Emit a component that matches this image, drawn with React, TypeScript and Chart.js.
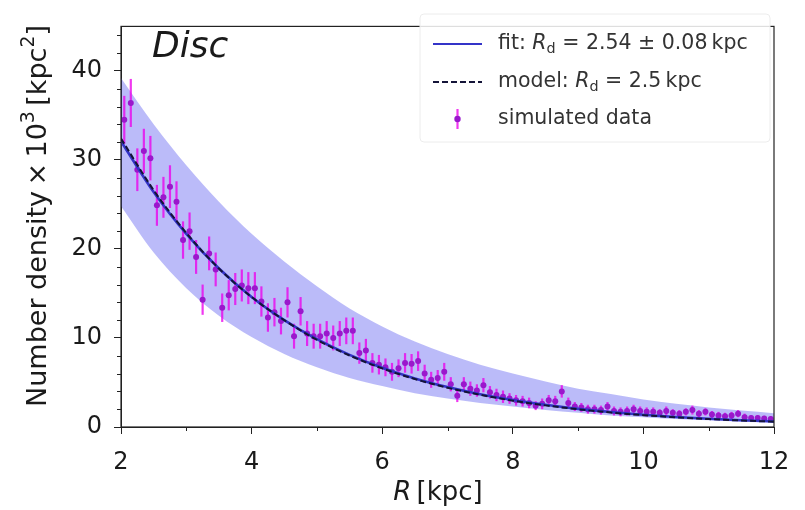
import React, { useEffect, useRef } from "react";
import { Chart, registerables } from "chart.js";
Chart.register(...registerables);

// ---- data ----
const curveR = [2, 2.5, 3, 3.5, 4, 4.5, 5, 5.5, 6, 6.5, 7, 7.5, 8, 8.5, 9, 9.5, 10, 10.5, 11, 11.5, 12];
const fitN = [32.1, 26.4, 21.7, 17.8, 14.6, 12.0, 9.86, 8.1, 6.65, 5.46, 4.49, 3.69, 3.03, 2.49, 2.04, 1.68, 1.38, 1.13, 0.93, 0.76, 0.63];
const modelN = [32.4, 26.6, 21.8, 17.8, 14.6, 12.0, 9.8, 8.03, 6.58, 5.39, 4.41, 3.62, 2.96, 2.43, 1.99, 1.63, 1.33, 1.09, 0.89, 0.73, 0.6];
const bandUpper = [39.2, 34.0, 29.4, 25.3, 21.7, 18.6, 15.8, 13.3, 11.3, 9.6, 8.2, 7.0, 6.0, 5.1, 4.3, 3.7, 3.1, 2.6, 2.2, 1.85, 1.55];
const bandLower = [24.8, 19.6, 15.6, 12.5, 10.1, 8.2, 6.7, 5.5, 4.6, 3.8, 3.2, 2.7, 2.3, 1.9, 1.6, 1.3, 1.1, 0.9, 0.75, 0.6, 0.5];

const dataR = [
  2.05, 2.15, 2.25, 2.35, 2.45, 2.55, 2.65, 2.75, 2.85, 2.95,
  3.05, 3.15, 3.25, 3.35, 3.45, 3.55, 3.65, 3.75, 3.85, 3.95,
  4.05, 4.15, 4.25, 4.35, 4.45, 4.55, 4.65, 4.75, 4.85, 4.95,
  5.05, 5.15, 5.25, 5.35, 5.45, 5.55, 5.65, 5.75, 5.85, 5.95,
  6.05, 6.15, 6.25, 6.35, 6.45, 6.55, 6.65, 6.75, 6.85, 6.95,
  7.05, 7.15, 7.25, 7.35, 7.45, 7.55, 7.65, 7.75, 7.85, 7.95,
  8.05, 8.15, 8.25, 8.35, 8.45, 8.55, 8.65, 8.75, 8.85, 8.95,
  9.05, 9.15, 9.25, 9.35, 9.45, 9.55, 9.65, 9.75, 9.85, 9.95,
  10.05, 10.15, 10.25, 10.35, 10.45, 10.55, 10.65, 10.75, 10.85, 10.95,
  11.05, 11.15, 11.25, 11.35, 11.45, 11.55, 11.65, 11.75, 11.85, 11.95,
];
const dataN = [
  34.5, 36.4, 28.9, 31.0, 30.2, 24.9, 25.8, 27.0, 25.3, 21.0,
  22.0, 19.1, 14.3, 19.5, 17.7, 13.4, 14.8, 15.5, 15.9, 15.6,
  15.6, 14.1, 12.3, 12.9, 11.9, 14.0, 10.2, 13.0, 10.5, 10.2,
  10.2, 10.5, 10.0, 10.5, 10.8, 10.8, 8.3, 8.6, 7.2, 7.0,
  6.7, 6.2, 6.6, 7.2, 7.1, 7.4, 6.0, 5.3, 5.5, 6.2,
  4.8, 3.5, 4.8, 4.3, 4.1, 4.7, 3.9, 3.6, 3.4, 3.2,
  3.0, 2.9, 2.7, 2.4, 2.6, 3.0, 2.9, 4.0, 2.7, 2.3,
  2.2, 2.0, 2.0, 1.9, 2.3, 1.8, 1.7, 1.8, 2.0, 1.8,
  1.7, 1.7, 1.6, 1.8, 1.6, 1.5, 1.7, 1.9, 1.5, 1.7,
  1.4, 1.3, 1.2, 1.3, 1.5, 1.1, 1.0, 1.0, 0.95, 0.9,
];
const dataErr = [
  2.7, 2.7, 2.4, 2.5, 2.5, 2.3, 2.3, 2.4, 2.3, 2.1,
  2.1, 1.9, 1.7, 1.9, 1.9, 1.6, 1.7, 1.8, 1.8, 1.8,
  1.8, 1.7, 1.6, 1.6, 1.5, 1.7, 1.4, 1.6, 1.4, 1.4,
  1.4, 1.4, 1.4, 1.4, 1.5, 1.5, 1.2, 1.3, 1.1, 1.1,
  1.0, 1.0, 1.0, 1.1, 1.1, 1.1, 1.0, 0.9, 0.9, 1.0,
  0.8, 0.7, 0.8, 0.8, 0.7, 0.8, 0.7, 0.7, 0.7, 0.6,
  0.6, 0.6, 0.6, 0.5, 0.6, 0.6, 0.6, 0.7, 0.6, 0.5,
  0.5, 0.5, 0.5, 0.5, 0.5, 0.5, 0.5, 0.5, 0.5, 0.5,
  0.5, 0.5, 0.4, 0.5, 0.4, 0.4, 0.4, 0.5, 0.4, 0.4,
  0.4, 0.4, 0.4, 0.4, 0.4, 0.4, 0.3, 0.3, 0.3, 0.3,
];

const xTicks = [2, 4, 6, 8, 10, 12];
const yTicks = [0, 10, 20, 30, 40];
const xMinor = [3, 5, 7, 9, 11];
const yMinor = [2, 4, 6, 8, 12, 14, 16, 18, 22, 24, 26, 28, 32, 34, 36, 38, 42, 44];

const FONT = '"DejaVu Sans", sans-serif';
const TEXT = "#1a1a1a";
const FIT_COLOR = "#3434c8";
const MODEL_COLOR = "#141438";
const POINT_COLOR = "#9a18cc";
const BAR_COLOR = "rgba(236,0,236,0.78)";
const BAND_COLOR = "rgba(100,100,242,0.44)";

type Run = { t: string; it?: boolean; sc?: number; dy?: number };

function fontFor(r: Run, size: number) {
  const s = size * (r.sc || 1);
  return `${r.it ? "italic " : ""}${s}px ${FONT}`;
}
function runsWidth(ctx: CanvasRenderingContext2D, runs: Run[], size: number) {
  let w = 0;
  for (const r of runs) {
    ctx.font = fontFor(r, size);
    w += ctx.measureText(r.t).width;
  }
  return w;
}
function drawRuns(ctx: CanvasRenderingContext2D, runs: Run[], x: number, y: number, size: number, align: "left" | "center") {
  let cx = align === "center" ? x - runsWidth(ctx, runs, size) / 2 : x;
  ctx.textAlign = "left";
  ctx.textBaseline = "middle";
  for (const r of runs) {
    ctx.font = fontFor(r, size);
    ctx.fillText(r.t, cx, y + (r.dy || 0) * size);
    cx += ctx.measureText(r.t).width;
  }
}

const extras = {
  id: "extras",
  beforeDatasetDraw(chart: any, args: any) {
    if (args.index !== 2) return;
    const { ctx, scales } = chart;
    const xs = scales.x, ys = scales.y;
    ctx.save();
    ctx.strokeStyle = BAR_COLOR;
    ctx.lineWidth = 2.2;
    for (let i = 0; i < dataR.length; i++) {
      const px = xs.getPixelForValue(dataR[i]);
      ctx.beginPath();
      ctx.moveTo(px, ys.getPixelForValue(dataN[i] - dataErr[i]));
      ctx.lineTo(px, ys.getPixelForValue(dataN[i] + dataErr[i]));
      ctx.stroke();
    }
    ctx.restore();
  },
  afterDraw(chart: any) {
    const { ctx, chartArea: a, scales } = chart;
    const xs = scales.x, ys = scales.y;
    ctx.save();
    // spines
    ctx.strokeStyle = "#222";
    ctx.lineWidth = 1.2;
    ctx.strokeRect(a.left, a.top, a.right - a.left, a.bottom - a.top);
    // minor ticks
    ctx.lineWidth = 1;
    ctx.beginPath();
    for (const v of xMinor) {
      const px = Math.round(xs.getPixelForValue(v)) + 0.5;
      ctx.moveTo(px, a.bottom);
      ctx.lineTo(px, a.bottom + 4);
    }
    for (const v of yMinor) {
      const py = Math.round(ys.getPixelForValue(v)) + 0.5;
      ctx.moveTo(a.left, py);
      ctx.lineTo(a.left - 4, py);
    }
    ctx.stroke();

    ctx.fillStyle = TEXT;
    // panel title
    ctx.font = `italic 36px ${FONT}`;
    ctx.textAlign = "left";
    ctx.textBaseline = "alphabetic";
    ctx.fillText("Disc", 152, 57);

    // x label
    drawRuns(ctx, [{ t: "R", it: true }, { t: "\u2009[kpc]" }], 438, 493, 26, "center");
    // y label
    ctx.save();
    ctx.translate(39, 216);
    ctx.rotate(-Math.PI / 2);
    drawRuns(
      ctx,
      [
        { t: "Number density\u2009×\u200910" },
        { t: "3", sc: 0.7, dy: -0.38 },
        { t: "\u2009[kpc" },
        { t: "2", sc: 0.7, dy: -0.38 },
        { t: "]" },
      ],
      0, 0, 27, "center"
    );
    ctx.restore();

    // legend
    const lx = 420, ly = 14, lw = 350, lh = 128;
    ctx.fillStyle = "rgba(255,255,255,0.85)";
    ctx.strokeStyle = "#ececec";
    ctx.lineWidth = 1;
    ctx.beginPath();
    (ctx as any).roundRect ? (ctx as any).roundRect(lx, ly, lw, lh, 4) : ctx.rect(lx, ly, lw, lh);
    ctx.fill();
    ctx.stroke();

    const hx0 = 433, hx1 = 482, tx = 498;
    const rows = [44, 82, 119];
    // fit handle
    ctx.strokeStyle = FIT_COLOR;
    ctx.lineWidth = 2.2;
    ctx.setLineDash([]);
    ctx.beginPath();
    ctx.moveTo(hx0, rows[0]);
    ctx.lineTo(hx1, rows[0]);
    ctx.stroke();
    // model handle
    ctx.strokeStyle = MODEL_COLOR;
    ctx.setLineDash([6, 3]);
    ctx.beginPath();
    ctx.moveTo(hx0, rows[1]);
    ctx.lineTo(hx1, rows[1]);
    ctx.stroke();
    ctx.setLineDash([]);
    // data handle
    const hm = (hx0 + hx1) / 2;
    ctx.strokeStyle = BAR_COLOR;
    ctx.lineWidth = 2.2;
    ctx.beginPath();
    ctx.moveTo(hm, rows[2] - 10);
    ctx.lineTo(hm, rows[2] + 10);
    ctx.stroke();
    ctx.fillStyle = POINT_COLOR;
    ctx.beginPath();
    ctx.arc(hm, rows[2], 3.2, 0, Math.PI * 2);
    ctx.fill();

    ctx.fillStyle = "#333";
    const LS = 20.5;
    drawRuns(ctx, [
      { t: "fit: " }, { t: "R", it: true }, { t: "d", sc: 0.7, dy: 0.25 },
      { t: " = 2.54 ± 0.08\u2009kpc" },
    ], tx, rows[0], LS, "left");
    drawRuns(ctx, [
      { t: "model: " }, { t: "R", it: true }, { t: "d", sc: 0.7, dy: 0.25 },
      { t: " = 2.5\u2009kpc" },
    ], tx, rows[1], LS, "left");
    drawRuns(ctx, [{ t: "simulated data" }], tx, rows[2], LS, "left");
    ctx.restore();
  },
};

export default function App() {
  const ref = useRef<HTMLCanvasElement | null>(null);
  useEffect(() => {
    if (!ref.current) return;
    const line = (vals: number[]) => curveR.map((r, i) => ({ x: r, y: vals[i] }));
    const chart = new Chart(ref.current, {
      type: "scatter",
      data: {
        datasets: [
          {
            label: "model",
            data: line(modelN),
            showLine: true,
            borderColor: MODEL_COLOR,
            borderDash: [6, 3],
            borderWidth: 2,
            pointRadius: 0,
            cubicInterpolationMode: "monotone",
          } as any,
          {
            label: "fit",
            data: line(fitN),
            showLine: true,
            borderColor: FIT_COLOR,
            borderWidth: 2.6,
            pointRadius: 0,
            cubicInterpolationMode: "monotone",
          } as any,
          {
            label: "simulated data",
            data: dataR.map((r, i) => ({ x: r, y: dataN[i] })),
            showLine: false,
            pointRadius: 3,
            pointBackgroundColor: POINT_COLOR,
            pointBorderWidth: 0,
            pointBorderColor: POINT_COLOR,
          } as any,
          {
            label: "upper",
            data: line(bandUpper),
            showLine: true,
            borderColor: "rgba(0,0,0,0)",
            borderWidth: 1,
            pointRadius: 0,
            fill: "+1",
            backgroundColor: BAND_COLOR,
            cubicInterpolationMode: "monotone",
          } as any,
          {
            label: "lower",
            data: line(bandLower),
            showLine: true,
            borderColor: "rgba(0,0,0,0)",
            borderWidth: 1,
            pointRadius: 0,
            fill: false,
            cubicInterpolationMode: "monotone",
          } as any,
        ],
      },
      options: {
        animation: false,
        responsive: true,
        maintainAspectRatio: false,
        layout: { padding: { left: 0, top: 10, right: 31, bottom: 0 } },
        plugins: { legend: { display: false }, tooltip: { enabled: false } },
        scales: {
          x: {
            type: "linear",
            min: 2,
            max: 12,
            afterBuildTicks: (s: any) => { s.ticks = xTicks.map((v) => ({ value: v })); },
            afterFit: (s: any) => { s.height = 83; },
            ticks: { font: { family: FONT, size: 24 }, color: TEXT, padding: 14, maxRotation: 0 },
            grid: { drawOnChartArea: false, drawTicks: true, tickLength: 7, color: "#222", lineWidth: 1 },
            border: { display: true, color: "#222", width: 1 },
          },
          y: {
            type: "linear",
            min: 0,
            max: 45,
            afterBuildTicks: (s: any) => { s.ticks = yTicks.map((v) => ({ value: v })); },
            afterFit: (s: any) => { s.width = 121; },
            ticks: { font: { family: FONT, size: 24 }, color: TEXT, padding: 12 },
            grid: { drawOnChartArea: false, drawTicks: true, tickLength: 7, color: "#222", lineWidth: 1 },
            border: { display: true, color: "#222", width: 1 },
          },
        },
      } as any,
      plugins: [extras],
    });
    return () => chart.destroy();
  }, []);
  return (
    <div style={{ position: "absolute", left: 0, top: 0, width: 805, height: 510, background: "#fff" }}>
      <canvas ref={ref} />
    </div>
  );
}
